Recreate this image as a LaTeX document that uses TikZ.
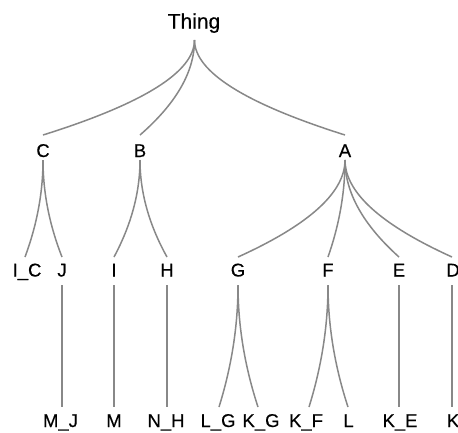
\documentclass[tikz,border=0pt]{standalone}
\usepackage{fontspec}
\setmainfont{Liberation Sans}
\newfontfamily\lblfont[FakeBold=0.35]{Liberation Sans}
\usetikzlibrary{calc}
\tikzset{
  lbl/.style={anchor=base, inner sep=0pt, text=black, font=\lblfont\fontsize{18.5}{20}\selectfont},
  rootlbl/.style={lbl, font=\lblfont\fontsize{21}{22}\selectfont},
  link/.style={draw={rgb,255:red,136;green,136;blue,136}, line width=1.5pt,
    to path={let \p1=(\tikztostart), \p2=(\tikztotarget) in
      .. controls (\x1,{\y1+(\y2-\y1)/3}) and ({(\x2+2*\x1)/3},{(2*\y2+\y1)/3}) .. (\tikztotarget)}},
}
\begin{document}
\begin{tikzpicture}[x=1pt,y=-1pt]
\useasboundingbox[fill=white] (0,0) rectangle (458,432);
% root
\node[rootlbl] (Thing) at (194,28.5) {Thing};
\coordinate (Thing-o) at (194.5,40);
% level 1
\foreach \n/\x in {C/43,B/140,A/345}{
  \node[lbl] (\n) at (\x,157) {\n};
  \coordinate (\n-i) at (\x,135);
  \coordinate (\n-o) at (\x,160);
}
% level 2
\foreach \n/\x/\tx/\t in {IC/25/27/I\_C,J/62/62/J,I/114/114/I,H/167/167/H,G/238/238/G,F/328/328/F,E/399/399/E,D/452/453/D}{
  \node[lbl] (\n) at (\tx,276.5) {\t};
  \coordinate (\n-i) at (\x,257);
  \coordinate (\n-o) at (\x,285);
}
% level 3
\foreach \n/\x/\tx/\t in {MJ/62/60.5/M\_J,M/114/114/M,NH/167/166/N\_H,LG/219/218/L\_G,KG/258/261/K\_G,KF/309/306/K\_F,L/348/348.5/L,KE/399/400/K\_E,K/452/453/K}{
  \node[lbl] (\n) at (\tx,427) {\t};
  \coordinate (\n-i) at (\x,407);
}
% links
\foreach \s/\t in {Thing/C,Thing/B,Thing/A,C/IC,C/J,B/I,B/H,A/G,A/F,A/E,A/D,
                   J/MJ,I/M,H/NH,G/LG,G/KG,F/KF,F/L,E/KE,D/K}{
  \draw[link] (\s-o) to (\t-i);
}
\end{tikzpicture}
\end{document}
